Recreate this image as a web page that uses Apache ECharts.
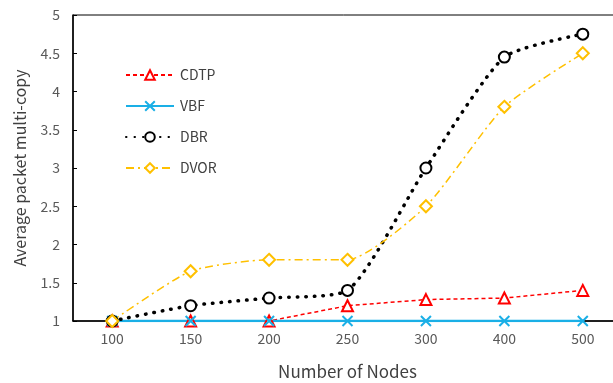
<!DOCTYPE html>
<html>
<head>
<meta charset="utf-8">
<script src="https://cdn.jsdelivr.net/npm/echarts@6/dist/echarts.min.js"></script>
<style>html,body{margin:0;padding:0;background:#fff}#c{width:613px;height:383px}</style>
</head>
<body>
<div id="c"></div>
<script>
var categories = ['100', '150', '200', '250', '300', '400', '500'];
var cdtp = [1, 1, 1, 1.2, 1.28, 1.3, 1.4];
var vbf = [1, 1, 1, 1, 1, 1, 1];
var dbr = [1, 1.2, 1.3, 1.4, 3.0, 4.45, 4.75];
var dvor = [1, 1.65, 1.8, 1.8, 2.5, 3.8, 4.5];

var FONT = 'Noto Sans CJK SC';
var chart = echarts.init(document.getElementById('c'));
chart.setOption({
  animation: false,
  backgroundColor: '#fff',
  textStyle: { fontFamily: FONT },
  grid: { left: 73, top: 15, width: 549, height: 306, show: true, borderColor: '#000', borderWidth: 1,
          outerBoundsMode: 'none', containLabel: false },
  legend: {
    orient: 'vertical', left: 120, top: 63, itemGap: 17, itemWidth: 48, itemHeight: 12,
    textStyle: { fontFamily: FONT, fontSize: 14, color: '#404040', padding: [0, 0, 0, 1] },
    data: ['CDTP', 'VBF', 'DBR', 'DVOR']
  },
  xAxis: {
    type: 'category', data: categories, boundaryGap: true,
    axisLine: { lineStyle: { color: '#000', width: 1.5 } },
    axisTick: { inside: true, length: 5, lineStyle: { color: '#000' } },
    axisLabel: { fontFamily: FONT, fontSize: 14, color: '#595959', margin: 11 },
    name: 'Number of Nodes', nameLocation: 'middle', nameGap: 42,
    nameTextStyle: { fontFamily: FONT, fontSize: 17, color: '#404040' }
  },
  yAxis: {
    type: 'value', min: 1, max: 5, interval: 0.5,
    splitLine: { show: false },
    axisLine: { show: true, lineStyle: { color: '#000', width: 1.5 } },
    axisTick: { show: true, inside: true, length: 4, lineStyle: { color: '#000' } },
    axisLabel: { fontFamily: FONT, fontSize: 14, color: '#595959', margin: 13 },
    name: 'Average packet multi-copy', nameLocation: 'middle', nameGap: 45,
    nameTextStyle: { fontFamily: FONT, fontSize: 16, color: '#404040' }
  },
  series: [
    {
      name: 'CDTP', type: 'line', data: cdtp,
      symbol: 'emptyTriangle', symbolSize: 11, showAllSymbol: true,
      lineStyle: { color: '#FF0000', width: 1.5, type: [4, 3] },
      itemStyle: { color: '#FF0000', borderColor: '#FF0000', borderWidth: 2 }
    },
    {
      name: 'VBF', type: 'line', data: vbf,
      symbol: 'path://M0,0L10,10M10,0L0,10', symbolSize: 10, showAllSymbol: true,
      lineStyle: { color: '#1AAFE6', width: 2.5 },
      itemStyle: { color: '#1AAFE6', borderColor: '#1AAFE6', borderWidth: 2 }
    },
    {
      name: 'DBR', type: 'line', data: dbr, smooth: 0.2,
      symbol: 'emptyCircle', symbolSize: 11, showAllSymbol: true,
      lineStyle: { color: '#000', width: 3.5, type: [0.5, 8], cap: 'round' },
      itemStyle: { color: '#000', borderColor: '#000', borderWidth: 2 }
    },
    {
      name: 'DVOR', type: 'line', data: dvor, smooth: 0.2,
      symbol: 'emptyDiamond', symbolSize: 12, showAllSymbol: true,
      lineStyle: { color: '#FFC000', width: 1.5, type: [8, 4, 2, 4] },
      itemStyle: { color: '#FFC000', borderColor: '#FFC000', borderWidth: 2 }
    }
  ]
});
</script>
</body>
</html>
